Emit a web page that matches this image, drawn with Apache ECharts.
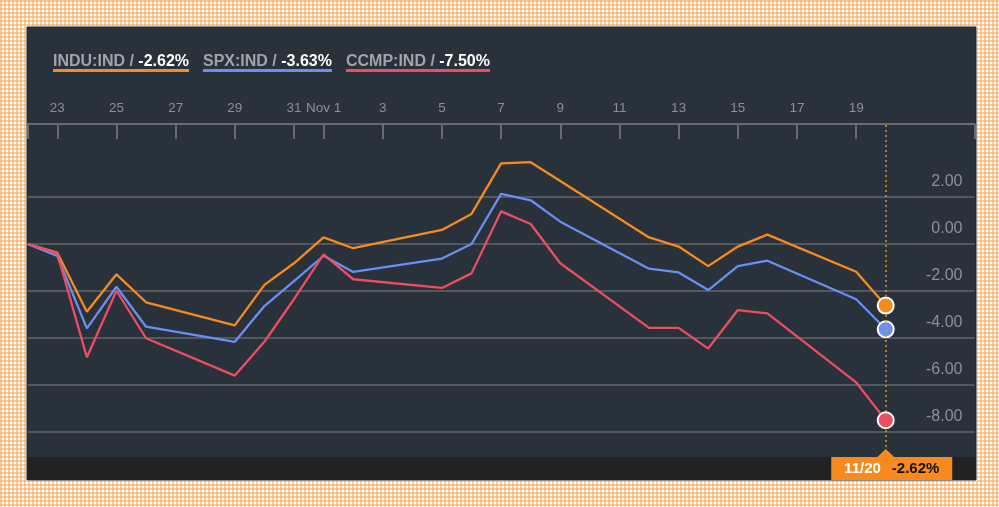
<!DOCTYPE html>
<html><head><meta charset="utf-8">
<script src="https://cdn.jsdelivr.net/npm/echarts@6/dist/echarts.min.js"></script>
<style>
html,body{margin:0;padding:0;width:999px;height:507px;overflow:hidden;background-color:#fff;
background-image:linear-gradient(rgba(247,160,68,0.5) 2px,transparent 2px),linear-gradient(90deg,rgba(247,160,68,0.5) 2px,transparent 2px);
background-size:4px 4px;}
#chart{width:999px;height:507px;}
</style></head><body><div id="chart"></div>
<script>
// ---- data ----
const calendarDays = ['10/22','10/23','10/24','10/25','10/26','10/27','10/28','10/29','10/30','10/31',
  '11/01','11/02','11/03','11/04','11/05','11/06','11/07','11/08','11/09','11/10','11/11','11/12',
  '11/13','11/14','11/15','11/16','11/17','11/18','11/19','11/20','11/21','11/22','11/23'];
const tickDays = ['10/23','10/25','10/27','10/29','10/31','11/01','11/03','11/05','11/07','11/09','11/11','11/13','11/15','11/17','11/19'];
const tickLabels = ['23','25','27','29','31','Nov 1','3','5','7','9','11','13','15','17','19'];
const tradingDays = ['10/22','10/23','10/24','10/25','10/26','10/29','10/30','10/31','11/01','11/02',
  '11/05','11/06','11/07','11/08','11/09','11/12','11/13','11/14','11/15','11/16','11/19','11/20'];
const seriesNames = ['INDU:IND','SPX:IND','CCMP:IND'];
const induValues = [0,-0.37,-2.88,-1.29,-2.48,-3.46,-1.74,-0.82,0.28,-0.18,0.60,1.28,3.43,3.48,2.68,0.28,-0.11,-0.94,-0.11,0.40,-1.18,-2.62];
const spxValues  = [0,-0.51,-3.59,-1.82,-3.52,-4.16,-2.64,-1.58,-0.50,-1.19,-0.62,0.00,2.13,1.86,0.95,-1.05,-1.21,-1.96,-0.94,-0.71,-2.35,-3.63];
const ccmpValues = [0,-0.40,-4.82,-1.99,-4.01,-5.60,-4.16,-2.35,-0.44,-1.50,-1.87,-1.25,1.39,0.85,-0.82,-3.57,-3.57,-4.45,-2.81,-2.95,-5.89,-7.50];
const yTickMin = -8, yTickMax = 2, yTickStep = 2;

// ---- style / layout ----
const colors = ['#f68b1f','#6b8ef3','#ec4d63'];
const tagColor = '#f7891f';
const FONT = '"Liberation Sans", Arial, Helvetica, sans-serif';
const L = {left: 27.7, right: 24.5, axisTop: 124, gridTop: 197, gridHeight: 235, panelBottom: 480, barTop: 457};
const valAt = px => yTickMax - (px - L.gridTop) / L.gridHeight * (yTickMax - yTickMin);

function underline(color){
  const c = document.createElement('canvas'); c.width = 4; c.height = 21;
  const ctx = c.getContext('2d'); ctx.fillStyle = color; ctx.fillRect(0, 18, 4, 3);
  return c;
}
const allValues = [induValues, spxValues, ccmpValues];
const lastDay = tradingDays[tradingDays.length - 1];
const fmtPct = v => v.toFixed(2) + '%';

const chart = echarts.init(document.getElementById('chart'), null, {renderer: 'canvas'});
const series = allValues.map((vals, s) => {
  const data = vals.map((v, i) => {
    if (i === vals.length - 1) {
      return {value: [tradingDays[i], v], symbol: 'circle', symbolSize: 16,
        itemStyle: {color: colors[s], borderColor: '#fff', borderWidth: 2}};
    }
    return [tradingDays[i], v];
  });
  const ser = {
    name: seriesNames[s], type: 'line', xAxisIndex: 0, yAxisIndex: 0,
    data, symbol: 'none', showSymbol: true, showAllSymbol: true, clip: false,
    lineStyle: {color: colors[s], width: 2.3}, itemStyle: {color: colors[s]},
    emphasis: {disabled: true}, animation: false, z: 3 + s
  };
  if (s === 0) {
    const lastV = vals[vals.length - 1];
    ser.markLine = {
      silent: true, animation: false, symbol: ['none', 'none'],
      lineStyle: {color: '#d9961e', type: [2, 3], width: 1.5},
      label: {show: false},
      data: [[{coord: [lastDay, valAt(L.axisTop + 1)]}, {coord: [lastDay, valAt(L.barTop)]}]]
    };
    ser.markPoint = {
      silent: true, animation: false,
      data: [
        {coord: [lastDay, valAt(453)], symbol: 'triangle', symbolSize: [17, 8],
          itemStyle: {color: tagColor}, label: {show: false}},
        {coord: [lastDay, valAt(468.5)], symbol: 'rect', symbolSize: [121, 23], symbolOffset: [6, 0],
          itemStyle: {color: tagColor},
          label: {show: true, position: 'inside',
            formatter: '{d|' + lastDay.replace(/^0/, '') + '}{v|' + fmtPct(lastV) + '}',
            rich: {
              d: {color: '#fff', fontWeight: 'bold', fontSize: 15, fontFamily: FONT},
              v: {color: '#111', fontWeight: 'bold', fontSize: 15, fontFamily: FONT, padding: [0, 0, 0, 11]}
            }}}
      ]
    };
  }
  return ser;
});

const option = {
  animation: false,
  backgroundColor: 'transparent',
  graphic: [
    {type: 'rect', z: -20, silent: true, shape: {x: 26, y: 26, width: 951, height: 455},
      style: {fill: '#ffffff'}},
    {type: 'rect', z: -19, silent: true, shape: {x: 27, y: 27, width: 949, height: 453},
      style: {fill: '#29313b', stroke: '#1c222a', lineWidth: 1}},
    {type: 'rect', z: -18, silent: true, shape: {x: 27.5, y: L.barTop, width: 948, height: L.panelBottom - L.barTop},
      style: {fill: '#222222'}}
  ],
  legend: {
    left: 48, top: 51, padding: 0, itemGap: 9, icon: 'none', itemWidth: 0, itemHeight: 21,
    selectedMode: false,
    data: seriesNames.map((n, i) => ({name: n, textStyle: {backgroundColor: {image: underline(colors[i])}}})),
    formatter: name => {
      const i = seriesNames.indexOf(name);
      const vals = allValues[i];
      return '{n|' + name + ' / }{v|' + fmtPct(vals[vals.length - 1]) + '}';
    },
    textStyle: {
      padding: [2, 0, 1, 0],
      rich: {
        n: {color: '#a2a4a7', fontSize: 16, fontWeight: 'bold', lineHeight: 18, fontFamily: FONT},
        v: {color: '#ffffff', fontSize: 16, fontWeight: 'bold', lineHeight: 18, fontFamily: FONT}
      }
    }
  },
  grid: [
    {left: L.left, right: L.right, top: L.axisTop, height: L.panelBottom - L.axisTop, containLabel: false},
    {left: L.left, right: L.right, top: L.gridTop, height: L.gridHeight, containLabel: false}
  ],
  xAxis: [
    {gridIndex: 0, type: 'category', data: calendarDays, boundaryGap: false, position: 'top',
      axisLine: {show: true, onZero: false, lineStyle: {color: '#686c71', width: 2}},
      axisTick: {show: true, inside: true, length: 15, lineStyle: {color: '#686c71', width: 2},
        interval: (i, v) => i === 0 || i === calendarDays.length - 1 || tickDays.indexOf(v) >= 0},
      axisLabel: {show: true, margin: 9, color: '#8c8f93', fontSize: 13.5, fontFamily: FONT,
        interval: (i, v) => tickDays.indexOf(v) >= 0,
        formatter: v => { const k = tickDays.indexOf(v); return k >= 0 ? tickLabels[k] : ''; }},
      splitLine: {show: false}},
    {gridIndex: 1, type: 'category', data: calendarDays, boundaryGap: false, show: false,
      axisLine: {onZero: false}}
  ],
  yAxis: [
    {gridIndex: 0, type: 'value', min: valAt(L.panelBottom), max: valAt(L.axisTop), show: false,
      splitLine: {show: false}},
    {gridIndex: 1, type: 'value', position: 'right', min: yTickMin, max: yTickMax, interval: yTickStep,
      axisLine: {show: false}, axisTick: {show: false},
      axisLabel: {inside: true, margin: 12, color: '#8d9094', fontSize: 16, fontFamily: FONT,
        verticalAlign: 'bottom', padding: [0, 0, 7, 0],
        formatter: v => v.toFixed(2)},
      splitLine: {show: true, lineStyle: {color: '#62666c', width: 1.5}}}
  ],
  series
};
chart.setOption(option);
</script></body></html>
